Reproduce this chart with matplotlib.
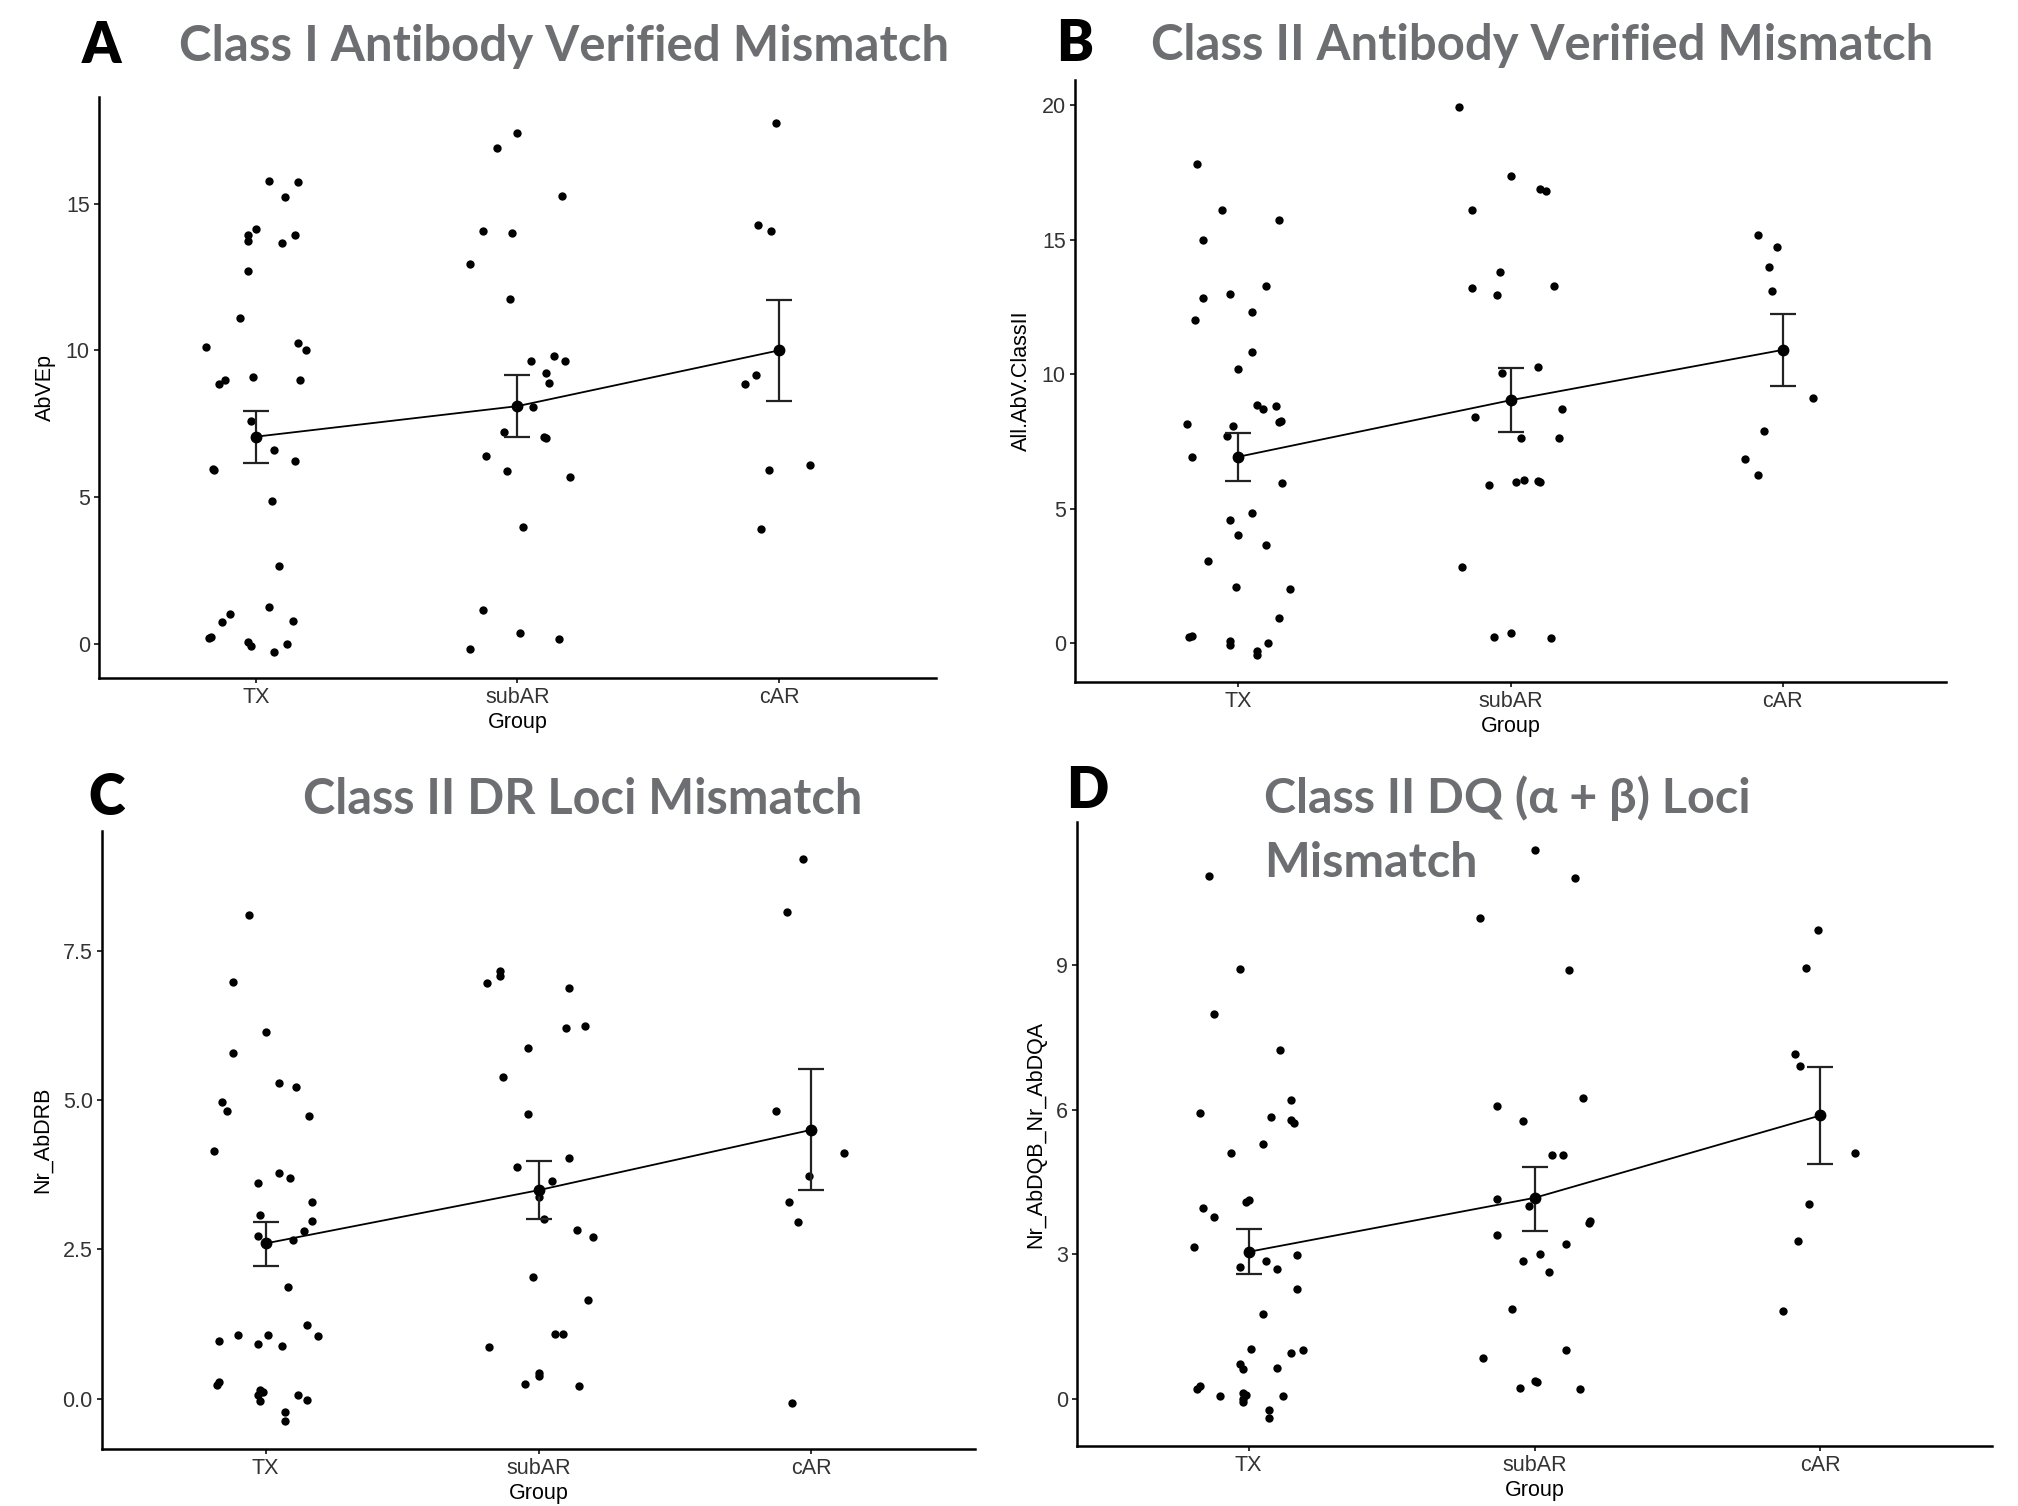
import numpy as np
import matplotlib
matplotlib.use("Agg")
from matplotlib import pyplot as plt

plt.rcParams['font.family'] = ['Liberation Sans', 'DejaVu Sans']

groups = ["TX", "subAR", "cAR"]

# ---- A: AbVEp (values, jitter offsets)
a_tx = [15.78, 15.74, 15.23, 14.14, 13.92, 13.73, 13.94, 13.64, 12.70, 11.10, 10.11, 10.26, 10.01,
        8.86, 8.99, 9.10, 8.99, 7.61, 6.60, 6.22, 5.94, 5.95, 4.86, 2.67, 1.27, 1.03, 0.76, 0.77,
        0.19, 0.25, 0.07, -0.06, 0.01, -0.26]
a_tx_j = [0.05, 0.16, 0.11, 0.0, -0.03, -0.03, 0.15, 0.10, -0.03, -0.06, -0.19, 0.16, 0.19,
          -0.14, -0.12, -0.01, 0.17, -0.02, 0.07, 0.15, -0.16, -0.165, 0.06, 0.09, 0.05, -0.10, -0.13, 0.14,
          -0.18, -0.17, -0.03, -0.02, 0.12, 0.07]
a_sub = [17.39, 16.89, 15.25, 14.07, 14.01, 12.95, 11.76, 9.63, 9.80, 9.63, 9.23, 8.90, 8.08, 7.23,
         7.06, 7.02, 6.40, 5.88, 5.69, 4.0, 1.16, 0.36, 0.18, -0.18]
a_sub_j = [0.0, -0.08, 0.17, -0.13, -0.02, -0.18, -0.03, 0.05, 0.14, 0.18, 0.11, 0.12, 0.06, -0.05,
           0.10, 0.11, -0.12, -0.04, 0.20, 0.02, -0.13, 0.01, 0.16, -0.18]
a_car = [17.73, 14.28, 14.05, 9.15, 8.84, 5.94, 6.10, 3.90]
a_car_j = [-0.01, -0.08, -0.03, -0.09, -0.13, -0.04, 0.12, -0.07]
a_mean = [7.06, 8.10, 10.0]
a_lo = [6.16, 7.04, 8.28]
a_hi = [7.95, 9.16, 11.70]

# ---- B: All.AbV.ClassII
b_tx = [17.81, 16.10, 15.73, 15.0, 13.26, 12.96, 12.82, 12.32, 12.00, 10.83, 10.18, 8.85, 8.70, 8.80,
        8.23, 8.27, 8.16, 8.07, 7.72, 6.93, 5.97, 4.86, 4.60, 4.03, 3.64, 3.04, 2.08, 2.02, 0.95,
        0.22, 0.26, 0.10, -0.05, 0.02, -0.28, -0.42]
b_tx_j = [-0.15, -0.06, 0.15, -0.13, 0.10, -0.03, -0.13, 0.05, -0.16, 0.05, 0.0, 0.07, 0.09, 0.14,
          0.15, 0.155, -0.19, -0.02, -0.04, -0.17, 0.16, 0.05, -0.03, 0.0, 0.10, -0.11, -0.01, 0.19, 0.15,
          -0.18, -0.17, -0.03, -0.03, 0.11, 0.07, 0.07]
b_sub = [19.91, 17.36, 16.88, 16.80, 16.08, 13.80, 13.20, 13.29, 12.93, 10.25, 10.05, 8.39, 8.69,
         7.62, 7.64, 5.87, 6.00, 6.05, 6.04, 6.00, 2.83, 0.22, 0.37, 0.20]
b_sub_j = [-0.19, 0.0, 0.11, 0.13, -0.14, -0.04, -0.14, 0.16, -0.05, 0.10, -0.03, -0.13, 0.19,
           0.04, 0.18, -0.08, 0.02, 0.05, 0.10, 0.11, -0.18, -0.06, 0.0, 0.15]
b_car = [15.16, 14.72, 13.97, 13.09, 9.11, 7.90, 6.83, 6.27]
b_car_j = [-0.09, -0.02, -0.05, -0.04, 0.11, -0.07, -0.14, -0.09]
b_mean = [6.93, 9.03, 10.90]
b_lo = [6.04, 7.86, 9.55]
b_hi = [7.80, 10.22, 12.24]

# ---- C: Nr_AbDRB
c_tx = [8.10, 6.97, 6.13, 5.78, 5.28, 5.22, 4.96, 4.82, 4.73, 4.15, 3.61, 3.77, 3.70, 3.29, 3.08,
        2.98, 2.81, 2.73, 2.66, 1.87, 1.23, 1.06, 1.06, 1.05, 0.96, 0.92, 0.89, 0.23, 0.28, 0.15,
        0.12, 0.07, -0.03, 0.06, -0.02, -0.22, -0.37]
c_tx_j = [-0.06, -0.12, 0.0, -0.12, 0.05, 0.11, -0.16, -0.14, 0.16, -0.19, -0.03, 0.05, 0.09, 0.17, -0.02,
          0.17, 0.14, -0.03, 0.10, 0.08, 0.15, -0.10, 0.01, 0.19, -0.17, -0.03, 0.06, -0.18, -0.17, -0.02,
          -0.01, -0.03, -0.02, 0.12, 0.15, 0.07, 0.07]
c_sub = [7.16, 7.07, 6.96, 6.88, 6.21, 6.24, 5.87, 5.39, 4.77, 4.03, 3.88, 3.65, 3.38, 3.01, 2.82,
         2.70, 2.03, 1.65, 1.08, 1.08, 0.86, 0.43, 0.38, 0.25, 0.22]
c_sub_j = [-0.14, -0.14, -0.19, 0.11, 0.10, 0.17, -0.04, -0.13, -0.04, 0.11, -0.08, 0.05, 0.0, 0.02, 0.14,
           0.20, -0.02, 0.18, 0.06, 0.09, -0.18, 0.0, 0.0, -0.05, 0.15]
c_car = [9.03, 8.14, 4.82, 4.11, 3.72, 3.29, 2.96, -0.07]
c_car_j = [-0.03, -0.09, -0.13, 0.12, -0.01, -0.08, -0.05, -0.07]
c_mean = [2.60, 3.49, 4.50]
c_lo = [2.23, 3.01, 3.50]
c_hi = [2.96, 3.98, 5.51]

# ---- D: Nr_AbDQB_Nr_AbDQA
d_tx = [10.84, 8.91, 7.98, 7.23, 6.21, 5.93, 5.85, 5.78, 5.73, 5.28, 5.11, 4.13, 4.09, 3.95, 3.78,
        3.15, 2.98, 2.86, 2.74, 2.69, 2.27, 1.76, 1.03, 1.02, 0.95, 0.73, 0.61, 0.65, 0.21, 0.26,
        0.05, 0.12, 0.08, 0.0, -0.07, 0.05, -0.24, -0.39]
d_tx_j = [-0.14, -0.03, -0.12, 0.11, 0.15, -0.17, 0.08, 0.15, 0.16, 0.05, -0.06, 0.0, -0.01, -0.16, -0.12,
          -0.19, 0.17, 0.06, -0.03, 0.10, 0.17, 0.05, 0.01, 0.19, 0.15, -0.03, -0.02, 0.10, -0.18, -0.17,
          -0.10, -0.02, -0.01, -0.02, -0.02, 0.12, 0.07, 0.07]
d_sub = [11.38, 10.81, 9.97, 8.90, 6.24, 6.07, 5.76, 5.06, 5.06, 4.15, 4.01, 3.64, 3.69, 3.39, 3.22,
         3.0, 2.86, 2.64, 1.87, 1.02, 0.84, 0.38, 0.35, 0.22, 0.20]
d_sub_j = [0.0, 0.14, -0.19, 0.12, 0.17, -0.13, -0.04, 0.06, 0.10, -0.13, -0.02, 0.19, 0.195, -0.13, 0.11,
           0.02, -0.04, 0.05, -0.08, 0.11, -0.18, 0.0, 0.01, -0.05, 0.16]
d_car = [9.72, 8.94, 7.15, 6.90, 5.11, 4.04, 3.28, 1.83]
d_car_j = [-0.01, -0.05, -0.09, -0.07, 0.12, -0.04, -0.08, -0.13]
d_mean = [3.05, 4.17, 5.88]
d_lo = [2.58, 3.49, 4.88]
d_hi = [3.53, 4.82, 6.88]

W, H = 2018, 1506
fig = plt.figure(figsize=(W / 100, H / 100), dpi=100)
title_grey = '#6d6e71'
title_font = ['Lato', 'Liberation Sans', 'DejaVu Sans']


def px_axes(left, top, right, bottom):
    return fig.add_axes([left / W, 1 - bottom / H, (right - left) / W, (bottom - top) / H])


def draw_panel(ax, vals, jits, mean, lo, hi, ylab, yticks, yticklabels):
    for i, (v, j) in enumerate(zip(vals, jits)):
        ax.scatter(i + 1 + np.array(j), v, s=36, color='black', linewidths=0, zorder=3)
    x = np.arange(1, len(groups) + 1)
    mean, lo, hi = np.array(mean), np.array(lo), np.array(hi)
    ax.plot(x, mean, color='black', lw=1.3, zorder=4)
    ax.errorbar(x, mean, yerr=[mean - lo, hi - mean], fmt='o', color='black', ecolor='#222222',
                ms=7.5, elinewidth=1.6, capsize=9.7, capthick=1.6, zorder=5)
    allv = np.concatenate([np.array(v) for v in vals])
    r = allv.max() - allv.min()
    ax.set_ylim(allv.min() - 0.05 * r, allv.max() + 0.05 * r)
    ax.set_xlim(0.4, 3.6)
    ax.set_xticks(x)
    ax.set_xticklabels(groups)
    ax.set_yticks(yticks)
    ax.set_yticklabels(yticklabels)
    ax.set_xlabel('Group', fontsize=15.5, labelpad=3)
    ax.set_ylabel(ylab, fontsize=15.5, labelpad=7)
    for s in ['top', 'right']:
        ax.spines[s].set_visible(False)
    for s in ['left', 'bottom']:
        ax.spines[s].set_linewidth(1.8)
    ax.tick_params(length=3.6, width=1.4, color='#333333', labelsize=15.5,
                   labelcolor='#333333', pad=3)


def fit_text(x, y, s, width, **kw):
    t = fig.text(x / W, 1 - y / H, s, **kw)
    fig.canvas.draw()
    w = t.get_window_extent().width
    t.set_fontsize(t.get_fontsize() * width / w)
    return t


ax_a = px_axes(99, 97, 936, 678)
draw_panel(ax_a, [a_tx, a_sub, a_car], [a_tx_j, a_sub_j, a_car_j], a_mean, a_lo, a_hi,
           'AbVEp', [0, 5, 10, 15], ['0', '5', '10', '15'])
ax_b = px_axes(1075, 80, 1946, 682)
draw_panel(ax_b, [b_tx, b_sub, b_car], [b_tx_j, b_sub_j, b_car_j], b_mean, b_lo, b_hi,
           'All.AbV.ClassII', [0, 5, 10, 15, 20], ['0', '5', '10', '15', '20'])
ax_c = px_axes(102, 831, 975, 1449)
draw_panel(ax_c, [c_tx, c_sub, c_car], [c_tx_j, c_sub_j, c_car_j], c_mean, c_lo, c_hi,
           'Nr_AbDRB', [0, 2.5, 5, 7.5], ['0.0', '2.5', '5.0', '7.5'])
ax_d = px_axes(1077, 822, 1992, 1446)
draw_panel(ax_d, [d_tx, d_sub, d_car], [d_tx_j, d_sub_j, d_car_j], d_mean, d_lo, d_hi,
           'Nr_AbDQB_Nr_AbDQA', [0, 3, 6, 9], ['0', '3', '6', '9'])

# panel letters
for lab, x, y in [('A', 101, 63), ('B', 1075, 61), ('C', 107, 815), ('D', 1087, 808)]:
    fig.text(x / W, 1 - y / H, lab, ha='center', va='baseline', fontsize=40,
             fontweight='heavy', color='black', family=title_font)

# titles
tkw = dict(ha='left', va='baseline', fontsize=38, fontweight='bold', color=title_grey, family=title_font)
fit_text(179, 61, 'Class I Antibody Verified Mismatch', 770, **tkw)
fit_text(1151, 60, 'Class II Antibody Verified Mismatch', 782, **tkw)
fit_text(303, 814, 'Class II DR Loci Mismatch', 559, **tkw)
t1 = fit_text(1264, 813, 'Class II DQ (\u03b1 + \u03b2) Loci', 487, **tkw)
fig.text(1264 / W, 1 - 877 / H, 'Mismatch', ha='left', va='baseline', fontsize=t1.get_fontsize(),
         fontweight='bold', color=title_grey, family=title_font)

plt.savefig('out.png', dpi=100)
